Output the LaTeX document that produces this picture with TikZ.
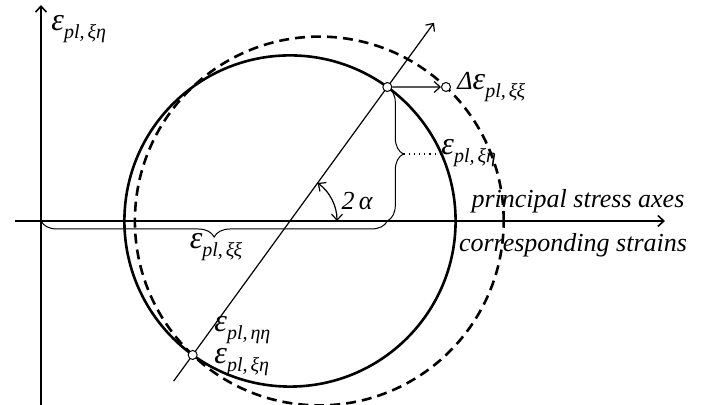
\documentclass[tikz,border=0pt]{standalone}
\usepackage{fontspec}
\setmainfont{Liberation Serif}
\usepackage{tikz}
\usetikzlibrary{arrows.meta,positioning,calc,decorations.pathreplacing}
\newcommand{\epl}[1]{\textit{{\fontsize{16}{16}\selectfont ε}\raisebox{-0.3em}{\fontsize{10}{10}\selectfont pl,\kern1.5pt #1}}}

\begin{document}
\begin{tikzpicture}[x=0.5pt,y=0.5pt,>={Straight Barb[length=3pt,width=5.5pt]},
    every node/.style={font=\fontsize{13}{15}\selectfont\itshape,inner sep=0pt},
    mohr/.style={line width=1.3pt},
    marker/.style={circle,draw,fill=white,line width=0.5pt,minimum size=4.5pt},
    strainbrace/.style={decorate,decoration={brace,amplitude=8pt},line width=0.5pt}]
  \useasboundingbox (0,0) rectangle (725,405);
  \coordinate (O) at (41,184);
  \coordinate (ybot) at (41,0);
  \coordinate (ytop) at (41,400);
  \coordinate (xl) at (15,184);
  \coordinate (xr) at (665,184);
  \coordinate (C) at (290,184);
  \coordinate (C2) at (319.3,184);
  % axes
  \draw[->,line width=0.8pt] (ybot) -- (ytop);
  \draw[->,line width=0.8pt] (xl) -- (xr);
  % Mohr circles
  \draw[mohr] (C) circle[radius=165.6];
  \draw[mohr,dash pattern=on 5pt off 3pt] (C2) circle[radius=184.4];
  \coordinate (dlo) at ($(C)+(234:198)$);
  \coordinate (dhi) at ($(C)+(54:245)$);
  \draw[->,line width=0.6pt] (dlo) -- (dhi);
  \draw[<->,line width=0.6pt] ($(C)+(0:47)$) arc[start angle=0,end angle=54,radius=47];
  % braces
  \coordinate (P0) at ($(C)+(54:165.6)$);
  \coordinate (Pb) at (P0 |- O);
  \draw[strainbrace] (P0) -- (Pb);
  \draw[strainbrace] (Pb) -- (O);
  \coordinate (btip) at ($(P0)!0.5!(Pb)+(16,0)$);
  \node[anchor=west] (lxe) at (441,252) {\epl{ξη}};
  \draw[dotted,line width=0.6pt] (btip) -- (lxe.west |- btip);
  % points
  \node[marker] (P) at (P0) {};
  \node[marker] (Q) at ($(C)+(234:165.6)$) {};
  \node[marker] (Pd) at (446,318) {};
  \draw[->,line width=0.6pt] (P) -- (Pd);
  % labels
  \node[anchor=west] (lyax) at (51,376) {\epl{ξη}};
  \node[right=3pt of Pd] (ldelta) {Δ\epl{ξξ}};
  \node (lalpha) at (357,204) {2\,α};
  \node (lxx) at (216,158) {\epl{ξξ}};
  \node (lstress) at (578,204) {principal stress axes};
  \node (lstrain) at (573,160) {corresponding strains};
  \node[anchor=west] (lyy) at (214,75) {\epl{ηη}};
  \node[anchor=west] (lxe2) at (214,43) {\epl{ξη}};
\end{tikzpicture}
\end{document}
